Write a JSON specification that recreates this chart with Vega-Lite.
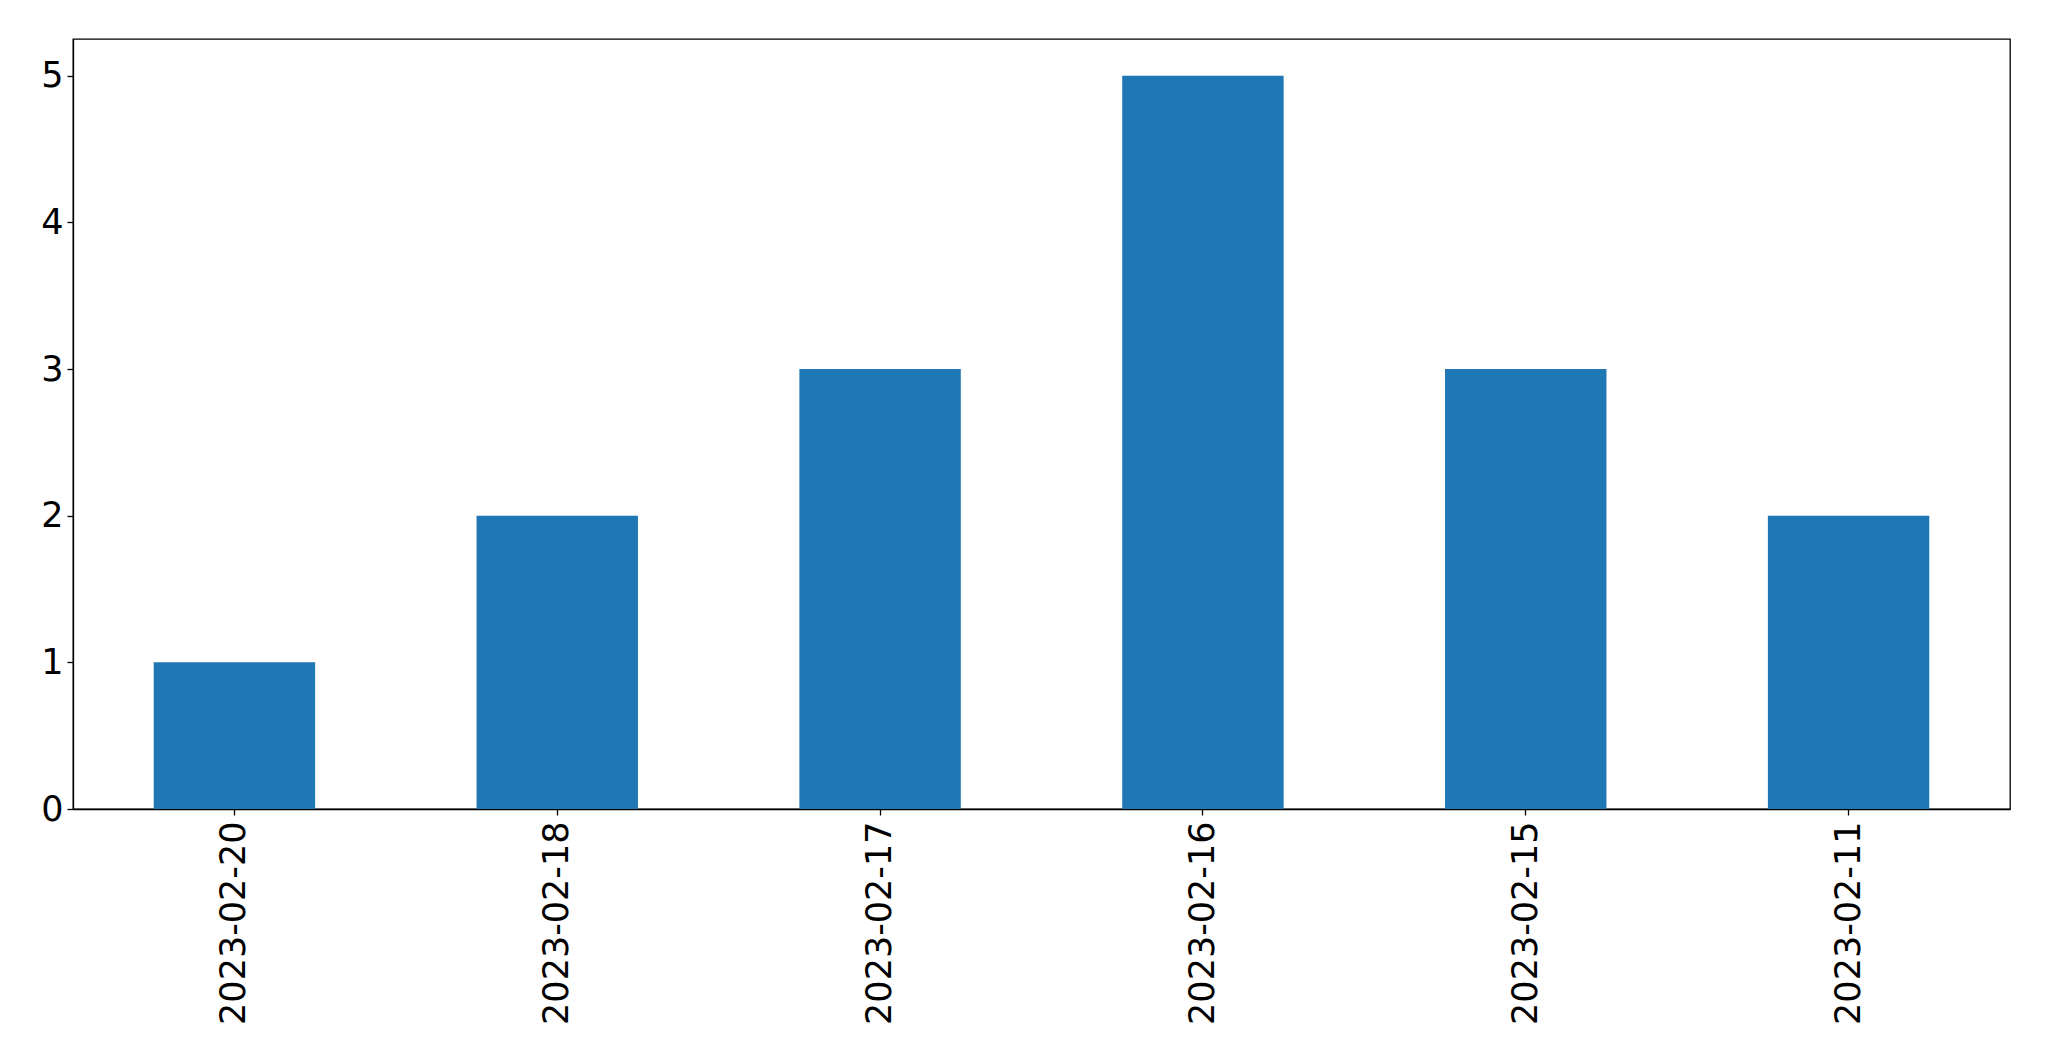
{
  "$schema": "https://vega.github.io/schema/vega-lite/v6.json",
  "autosize": "none",
  "padding": {"left": 73, "top": 39, "right": 39, "bottom": 252},
  "width": 1937,
  "height": 770,
  "background": "white",
  "data": {
    "values": [
      {"date": "2023-02-20", "count": 1},
      {"date": "2023-02-18", "count": 2},
      {"date": "2023-02-17", "count": 3},
      {"date": "2023-02-16", "count": 5},
      {"date": "2023-02-15", "count": 3},
      {"date": "2023-02-11", "count": 2}
    ]
  },
  "config": {
    "view": {"stroke": "black", "strokeWidth": 1.3},
    "axis": {
      "labelFont": "DejaVu Sans",
      "labelFontSize": 35,
      "labelColor": "black",
      "labelLimit": 0,
      "tickColor": "black",
      "tickSize": 6,
      "tickWidth": 1.3,
      "domainColor": "black",
      "domainWidth": 1.3,
      "grid": false,
      "title": null,
      "labelOverlap": false
    }
  },
  "mark": {"type": "bar", "color": "#1f77b4"},
  "encoding": {
    "x": {
      "field": "date",
      "type": "nominal",
      "sort": null,
      "scale": {"paddingInner": 0.5, "paddingOuter": 0.25},
      "axis": {"labelAngle": -90, "labelPadding": 6, "labelAlign": "right", "labelBaseline": "middle"}
    },
    "y": {
      "field": "count",
      "type": "quantitative",
      "scale": {"domain": [0, 5.25], "nice": false},
      "axis": {"values": [0, 1, 2, 3, 4, 5], "labelPadding": 4}
    }
  }
}
